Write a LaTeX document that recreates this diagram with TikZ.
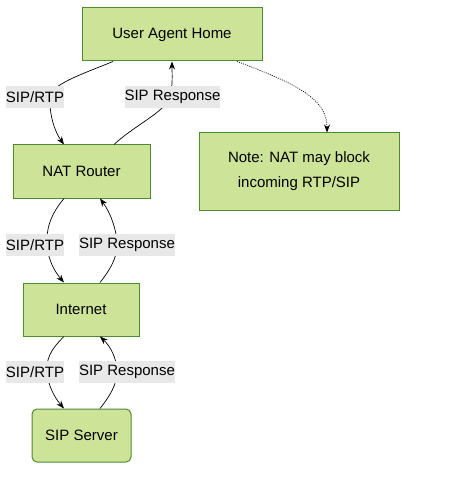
\documentclass[tikz,border=0pt]{standalone}
\usepackage{fontspec}
\setmainfont{Liberation Sans}
\usetikzlibrary{arrows.meta,positioning,calc}
\definecolor{boxfill}{HTML}{CDE498}
\definecolor{boxline}{HTML}{4C8A34}
\definecolor{lblfill}{HTML}{E8E8E8}

\begin{document}
\begin{tikzpicture}[x=1pt, y=-1pt,
    box/.style={rectangle, draw=boxline, fill=boxfill, line width=1pt, minimum height=53pt, inner sep=0pt, font=\fontsize{15}{25}\selectfont, align=center},
    lbl/.style={fill=lblfill, inner xsep=0pt, inner ysep=0pt, minimum height=22pt, font=\fontsize{15}{17}\selectfont},
    arr/.style={-{Stealth[length=8pt,width=6pt]}, line width=0.7pt}]
    \useasboundingbox (0,0) rectangle (471,478);
    \node[box, minimum width=180pt] (home) at (172,34.5) {User Agent Home};
    \node[box, minimum width=137pt] (router) at (81.5,171.5) {NAT Router};
    \node[box, minimum width=116pt] (internet) at (81,309.5) {Internet};
    \node[box, minimum width=99pt, rounded corners=5pt] (server) at (81.5,435.5) {SIP Server};
    \node[box, minimum width=200pt, minimum height=77pt] (note) at (299,171.5) {Note: NAT may block\\incoming RTP/SIP};

    \draw[arr] ($(home.south)+(-59,0)$) .. controls (80,75) and (52,84) .. (50,97) .. controls (49,115) and (55,132) .. ($(router.north)+(-17.5,0)$);
    \draw[arr] ($(router.north)+(32.5,0)$) .. controls (135,125) and (165,112) .. (170,97) .. controls (173,85) and (172,74) .. (home.south);
    \draw[arr, dash pattern=on 1pt off 1.2pt] ($(home.south)+(65,0)$) .. controls (300,85) and (327,100) .. ($(note.north)+(28,0)$);
    \draw[arr] ($(router.south)+(-17.5,0)$) .. controls (50,215) and (46,230) .. (47,245) .. controls (48,260) and (55,272) .. ($(internet.north)+(-17,0)$);
    \draw[arr] ($(internet.north)+(19,0)$) .. controls (110,270) and (117,258) .. (117,245) .. controls (117,230) and (110,212) .. ($(router.south)+(18.5,0)$);
    \draw[arr] ($(internet.south)+(-17,0)$) .. controls (50,350) and (46,360) .. (47,372) .. controls (48,386) and (55,398) .. ($(server.north)+(-17.5,0)$);
    \draw[arr] ($(server.north)+(18.5,0)$) .. controls (110,396) and (117,384) .. (117,372) .. controls (117,358) and (110,346) .. ($(internet.south)+(19,0)$);

    \node[lbl] (rtpa) at (35,97) {SIP/RTP};
    \node[lbl] (respa) at (172.5,97) {SIP Response};
    \node[lbl] (rtpb) at (35,245) {SIP/RTP};
    \node[lbl] (respb) at (127,245) {SIP Response};
    \node[lbl] (rtpc) at (35,372) {SIP/RTP};
    \node[lbl] (respc) at (127,372) {SIP Response};
\end{tikzpicture}
\end{document}
